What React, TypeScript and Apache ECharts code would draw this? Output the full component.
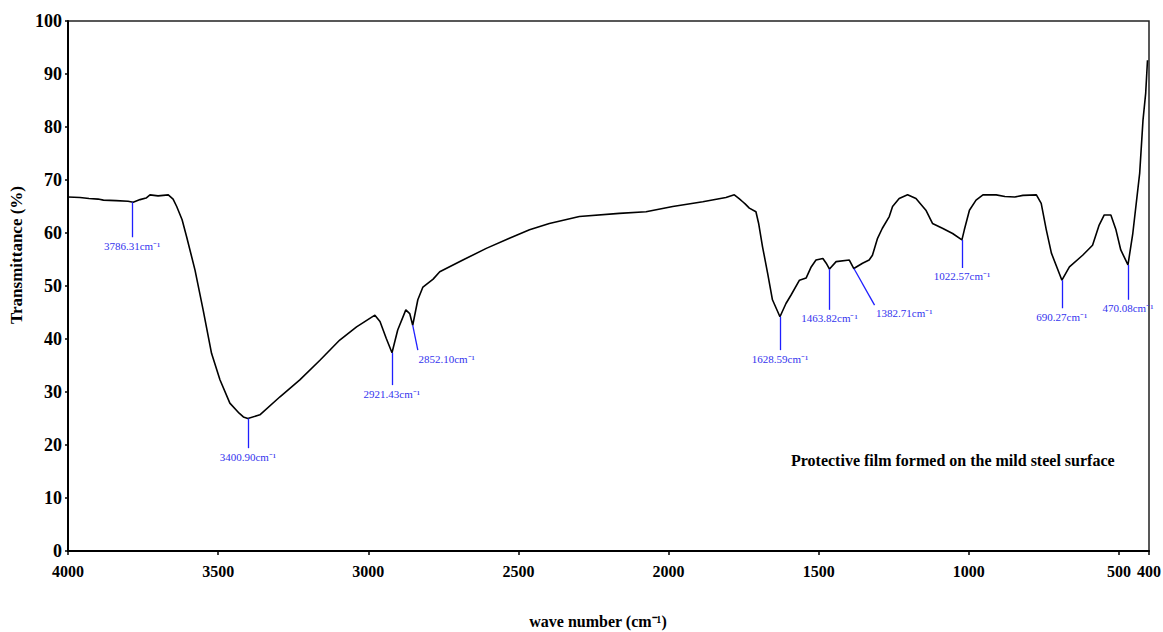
import React, { useEffect, useRef } from "react";
import * as echarts from "echarts";

// Wavenumber (cm-1) and transmittance (%)
const waveNumbers = [
  4000, 3960, 3930, 3900, 3882, 3840, 3800, 3783, 3760, 3740, 3727, 3700, 3666, 3650, 3638,
  3620, 3605, 3577, 3550, 3522, 3494, 3461, 3430, 3416, 3401, 3361, 3294, 3228, 3161, 3095,
  3039, 2978, 2961, 2940, 2921, 2902, 2875, 2862, 2852, 2835, 2818, 2784, 2762, 2685, 2607,
  2530, 2463, 2397, 2297, 2164, 2075, 1986, 1886, 1809, 1781, 1765, 1753, 1745, 1731, 1709,
  1700, 1687, 1670, 1654, 1629, 1609, 1592, 1564, 1542, 1525, 1509, 1486, 1475, 1464, 1442,
  1398, 1383, 1354, 1332, 1321, 1304, 1288, 1265, 1254, 1232, 1204, 1176, 1143, 1121, 1088,
  1054, 1023, 1015, 998, 976, 953, 909, 880, 847, 820, 775, 759, 742, 725, 690,
  665, 621, 588, 566, 549, 527, 510, 494, 470, 454, 431, 420, 411, 405,
];
const transmittance = [
  66.8, 66.7, 66.5, 66.4, 66.2, 66.1, 66.0, 65.8, 66.3, 66.6, 67.2, 67.0, 67.2, 66.4, 65.0,
  62.5, 59.3, 53.0, 45.5, 37.3, 32.3, 27.9, 26.0, 25.3, 25.0, 25.7, 29.1, 32.3, 36.0, 39.8,
  42.3, 44.5, 43.3, 40.1, 37.4, 41.7, 45.5, 44.8, 42.6, 47.4, 49.8, 51.3, 52.7, 54.9, 57.1,
  59.0, 60.6, 61.8, 63.1, 63.7, 64.0, 65.0, 65.9, 66.7, 67.2, 66.5, 65.9, 65.5, 64.7, 64.0,
  61.8, 57.4, 52.4, 47.4, 44.2, 46.7, 48.3, 51.1, 51.5, 53.6, 54.9, 55.2, 54.3, 53.2, 54.6,
  54.9, 53.3, 54.3, 54.9, 55.8, 59.0, 60.9, 63.1, 65.0, 66.5, 67.2, 66.5, 64.3, 61.8, 60.9,
  59.9, 58.7, 60.6, 64.3, 66.2, 67.2, 67.2, 66.9, 66.8, 67.1, 67.2, 65.6, 60.6, 56.2, 51.1,
  53.6, 55.8, 57.7, 61.5, 63.4, 63.4, 60.6, 56.8, 54.0, 59.9, 71.3, 81.3, 86.4, 92.6,
];

// Peak annotations
const peakLabels = [
  "3786.31", "3400.90", "2921.43", "2852.10", "1628.59",
  "1463.82", "1382.71", "1022.57", "690.27", "470.08",
];
const peakWave = [3786.31, 3400.9, 2921.43, 2852.1, 1628.59, 1463.82, 1382.71, 1022.57, 690.27, 470.08];
const peakT = [65.8, 25.0, 37.4, 42.6, 44.2, 53.2, 53.3, 58.7, 51.1, 54.0];
const peakEndWave = [3786.31, 3400.9, 2921.43, 2835, 1628.59, 1463.82, 1314, 1022.57, 690.27, 470.08];
const peakEndT = [59.2, 19.4, 31.3, 37.9, 37.9, 45.5, 46.4, 53.4, 45.8, 47.4];
const peakAlign = ["center", "center", "center", "left", "center", "center", "left", "center", "center", "center"];

const xTicks = [4000, 3500, 3000, 2500, 2000, 1500, 1000, 500, 400];

const SERIF = "Liberation Serif";

export default function App() {
  const ref = useRef<HTMLDivElement>(null);

  useEffect(() => {
    if (!ref.current) return;
    const chart = echarts.init(ref.current, undefined, { renderer: "svg" });

    const seriesData = waveNumbers.map((w, i) => [w, transmittance[i]]);
    const markData = peakWave.map((w, i) => [
      { coord: [w, peakT[i]] },
      {
        coord: [peakEndWave[i], peakEndT[i]],
        label: { formatter: peakLabels[i] + "cm\u207B\u00B9", align: peakAlign[i] },
      },
    ]);

    chart.setOption({
      animation: false,
      backgroundColor: "#fff",
      grid: {
        left: 68,
        right: 14,
        top: 21,
        bottom: 81,
        show: true,
        borderColor: "#222",
        borderWidth: 1.5,
        containLabel: false,
        outerBoundsMode: "none",
      },
      xAxis: {
        type: "value",
        inverse: true,
        min: 400,
        max: 4000,
        axisLine: { show: true, onZero: false, lineStyle: { color: "#000", width: 2 } },
        axisTick: {
          show: true,
          inside: false,
          length: 4,
          customValues: xTicks,
          lineStyle: { color: "#000", width: 1.5 },
        },
        axisLabel: {
          customValues: xTicks,
          formatter: (v: number) => String(v),
          margin: 12,
          color: "#000",
          fontFamily: SERIF,
          fontWeight: "bold",
          fontSize: 16,
        },
        splitLine: { show: false },
      },
      yAxis: {
        type: "value",
        min: 0,
        max: 100,
        interval: 10,
        axisLine: { show: true, lineStyle: { color: "#000", width: 2 } },
        axisTick: { show: true, inside: false, length: 3, lineStyle: { color: "#000", width: 1.5 } },
        axisLabel: {
          formatter: (v: number) => String(v),
          margin: 6,
          color: "#000",
          fontFamily: SERIF,
          fontWeight: "bold",
          fontSize: 18,
        },
        splitLine: { show: false },
      },
      series: [
        {
          type: "line",
          data: seriesData,
          showSymbol: false,
          symbol: "none",
          lineStyle: { color: "#000", width: 1.6 },
          markLine: {
            silent: true,
            symbol: ["none", "none"],
            lineStyle: { color: "#1f1fff", width: 1.3, type: "solid" },
            label: {
              show: true,
              position: "end",
              distance: 3,
              color: "#3333ee",
              fontFamily: SERIF,
              fontSize: 11,
            },
            data: markData,
          },
        },
      ],
      graphic: [
        {
          type: "text",
          left: 8,
          top: 186,
          rotation: Math.PI / 2,
          style: {
            text: "Transmittance (%)",
            font: `bold 17px ${SERIF}`,
            fill: "#000",
          },
        },
        {
          type: "text",
          x: 598,
          y: 621,
          style: {
            text: "wave number (cm\u207B\u00B9)",
            font: `bold 16px ${SERIF}`,
            fill: "#000",
            align: "center",
            verticalAlign: "middle",
          },
        },
        {
          type: "text",
          x: 791,
          y: 460,
          style: {
            text: "Protective film formed on the mild steel surface",
            font: `bold 16px ${SERIF}`,
            fill: "#000",
            align: "left",
            verticalAlign: "middle",
          },
        },
      ],
    });

    return () => chart.dispose();
  }, []);

  return (
    <div
      ref={ref}
      style={{ position: "fixed", left: 0, top: 0, width: 1163, height: 632 }}
    />
  );
}
